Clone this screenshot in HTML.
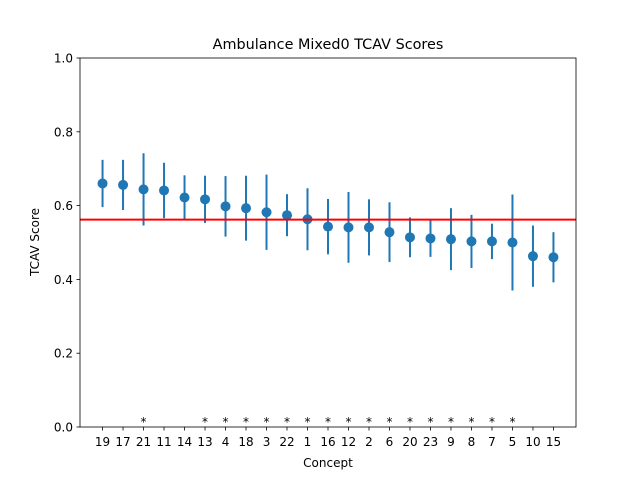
<!DOCTYPE html>
<html><head><meta charset="utf-8"><style>
html,body{margin:0;padding:0;background:#fff;}
svg text{font-family:"DejaVu Sans","Liberation Sans",sans-serif;fill:#000;}
</style></head><body>
<svg id="chart" width="640" height="480" xmlns="http://www.w3.org/2000/svg">
<rect width="640" height="480" fill="#fff"/>
<g id="marks"></g>
<rect x="80" y="58" width="496" height="369" fill="none" stroke="#000" stroke-width="0.8"/>
<text x="328" y="49" font-size="14.4" text-anchor="middle">Ambulance Mixed0 TCAV Scores</text>
<text x="328" y="467" font-size="12" text-anchor="middle">Concept</text>
<text x="39" y="242" font-size="12" text-anchor="middle" transform="rotate(-90 39 242)">TCAV Score</text>
</svg>
<script>
const categories = ["19","17","21","11","14","13","4","18","3","22","1","16","12","2","6","20","23","9","8","7","5","10","15"];
const scores = [0.660,0.656,0.644,0.641,0.622,0.617,0.598,0.593,0.582,0.574,0.563,0.543,0.541,0.541,0.528,0.514,0.511,0.509,0.503,0.503,0.500,0.463,0.460];
const errors = [0.064,0.068,0.098,0.075,0.060,0.064,0.082,0.088,0.102,0.057,0.084,0.075,0.096,0.076,0.081,0.054,0.050,0.084,0.072,0.048,0.130,0.083,0.068];
const significant = [false,false,true,false,false,true,true,true,true,true,true,true,true,true,true,true,true,true,true,true,true,false,false];
const baseline = 0.562;
const yTicks = [0.0,0.2,0.4,0.6,0.8,1.0];
const NS="http://www.w3.org/2000/svg";
const L=80,R=576,T=58,B=427;
const n=categories.length;
const xmin=-0.05*(n-1), xmax=(n-1)*1.05;
function xs(i){return L+(i-xmin)/(xmax-xmin)*(R-L);}
function ys(v){return B-v*(B-T);}
const g=document.getElementById('marks');
function mk(tag,attrs){const e=document.createElementNS(NS,tag);for(const k in attrs)e.setAttribute(k,attrs[k]);g.appendChild(e);return e;}
yTicks.forEach(t=>{
  const y=ys(t);
  const tk=mk('line',{x1:L-3.5,x2:L,y1:y,y2:y,stroke:'#000','stroke-width':0.8});
  
  
  const lb=mk('text',{x:L-7,y:y+4.5,'font-size':12,'text-anchor':'end'});
  lb.textContent=t.toFixed(1);
  
  
});
categories.forEach((c,i)=>{
  const x=xs(i);
  const tk=mk('line',{x1:x,x2:x,y1:B,y2:B+3.5,stroke:'#000','stroke-width':0.8});
  
  
  const lb=mk('text',{x:x,y:B+19,'font-size':12,'text-anchor':'middle'});
  lb.textContent=c;
  
  
  const eb=mk('line',{x1:x,x2:x,y1:ys(scores[i]+errors[i]),y2:ys(scores[i]-errors[i]),stroke:'#1f77b4','stroke-width':2});
  
  
  const p=mk('circle',{cx:x,cy:ys(scores[i]),r:5,fill:'#1f77b4'});
  
  
  if(significant[i]){
    const s=mk('text',{x:x,y:B-1,'font-size':12,'text-anchor':'middle'});
    s.textContent='*';
    
    
  }
});
const bl=mk('line',{x1:L,x2:R,y1:ys(baseline),y2:ys(baseline),stroke:'#ff0000','stroke-width':2});


</script>
</body></html>
